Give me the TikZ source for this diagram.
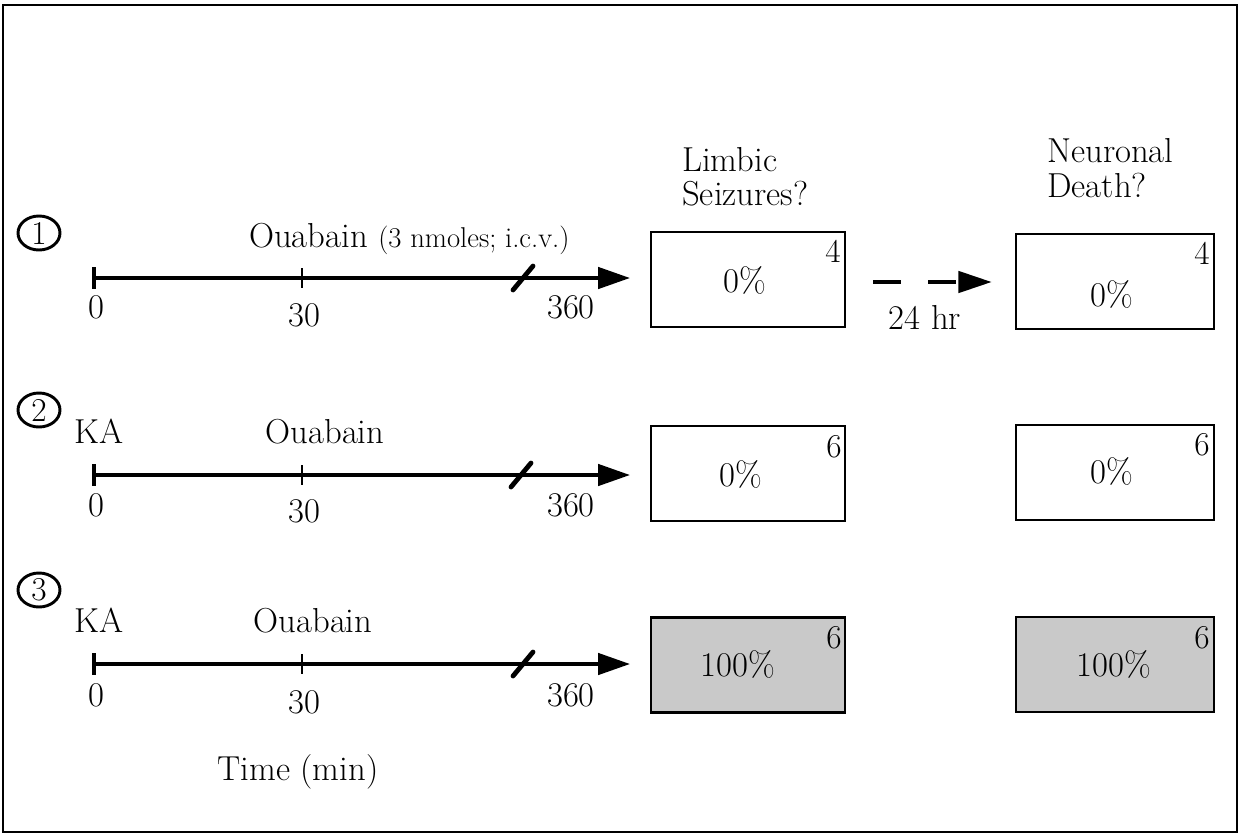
\documentclass[tikz,border=0pt]{standalone}
\usetikzlibrary{arrows.meta,shapes.geometric}
\begin{document}
\begin{tikzpicture}[x=0.75pt,y=-0.75pt,
  lbl/.style={font=\fontsize{26}{30}\selectfont, inner sep=0pt, anchor=base},
  cnt/.style={font=\fontsize{25}{30}\selectfont, inner sep=0pt, anchor=base east},
  lbox/.style={draw, line width=2pt, minimum width=145.5pt, minimum height=71.25pt, inner sep=0pt},
  nbox/.style={lbox, minimum width=148.5pt},
  shaded/.style={fill=gray!42},
  tl/.style={line width=2.8pt, -{Triangle[length=24pt,width=16pt]}, shorten >=15.75pt},
  tick0/.style={line width=2.4pt},
  tick30/.style={line width=1.8pt},
  brk/.style={line width=3.6pt, line cap=round},
  numc/.style={draw, ellipse, line width=2.2pt, minimum width=31.5pt, minimum height=25.5pt, inner sep=0pt, font=\fontsize{25}{26}\selectfont}
]
\useasboundingbox (0,0) rectangle (1241,836);
\draw[line width=2pt] (3,5) rectangle (1237,832);

% headers
\node[lbl, anchor=base west] (hl1) at (682,171) {Limbic};
\node[lbl, anchor=base west] (hl2) at (682,205) {Seizures?};
\node[lbl, anchor=base west] (hn1) at (1047,162) {Neuronal};
\node[lbl, anchor=base west] (hn2) at (1047,197) {Death?};

% circled numbers
\node[numc] (c1) at (39,233) {1};
\node[numc] (c2) at (39,410) {2};
\node[numc] (c3) at (39,590) {3};

% boxes
\node[lbox] (L1) at (748,279.5) {};
\node[nbox] (N1) at (1115,281.5) {};
\node[lbox] (L2) at (748,473.5) {};
\node[nbox] (N2) at (1115,472.5) {};
\node[lbox, shaded] (L3) at (748,665) {};
\node[nbox, shaded] (N3) at (1115,664.5) {};

\node[lbl] (p1) at (745,292) {0\%};
\node[lbl] (q1) at (1112,306) {0\%};
\node[lbl] (p2) at (741,486) {0\%};
\node[lbl] (q2) at (1112,483) {0\%};
\node[lbl] (p3) at (738,676) {100\%};
\node[lbl] (q3) at (1114,676) {100\%};

\node[cnt] (n1) at (841,262) {4};
\node[cnt] (m1) at (1210,264) {4};
\node[cnt] (n2) at (842,457) {6};
\node[cnt] (m2) at (1210,455) {6};
\node[cnt] (n3) at (842,648) {6};
\node[cnt] (m3) at (1210,648) {6};

% dashed arrow 24 hr
\draw[line width=2.8pt, dash pattern=on 21pt off 20.25pt, -{Triangle[length=25pt,width=16pt]},
  shorten <=20.25pt, shorten >=17.25pt] (L1.east |- 0,282) -- (N1.west |- 0,282);
\node[lbl] (hr) at (925,329) {24 hr};

% timelines
\foreach \r/\y/\za/\zb/\zc/\sx in {1/278/318/326/318/523, 2/475/516/522/516/521, 3/664/706/713/706/523}{
  \coordinate (s\r) at (94,\y);
  \coordinate (e\r) at (651,\y);
  \draw[tl] (s\r) -- (e\r);
  \draw[tick0] (94,\y-11) -- (94,\y+11);
  \draw[tick30] (302,\y-10) -- (302,\y+10);
  \draw[brk] (\sx-10,\y+12) -- (\sx+10,\y-12);
  \node[lbl] (z\r) at (96,\za) {0};
  \node[lbl] (t\r) at (304,\zb) {30};
  \node[lbl] (h\r) at (571,\zc) {360};
}

\node[lbl, anchor=base west] (o1) at (249,247) {Ouabain \fontsize{21.5}{24}\selectfont(3 nmoles; i.c.v.)};
\node[lbl] (k2) at (99,443) {KA};
\node[lbl] (o2) at (325,443) {Ouabain};
\node[lbl] (k3) at (99,632) {KA};
\node[lbl] (o3) at (313,632) {Ouabain};
\node[lbl] (tm) at (298,780) {Time (min)};
\end{tikzpicture}
\end{document}
